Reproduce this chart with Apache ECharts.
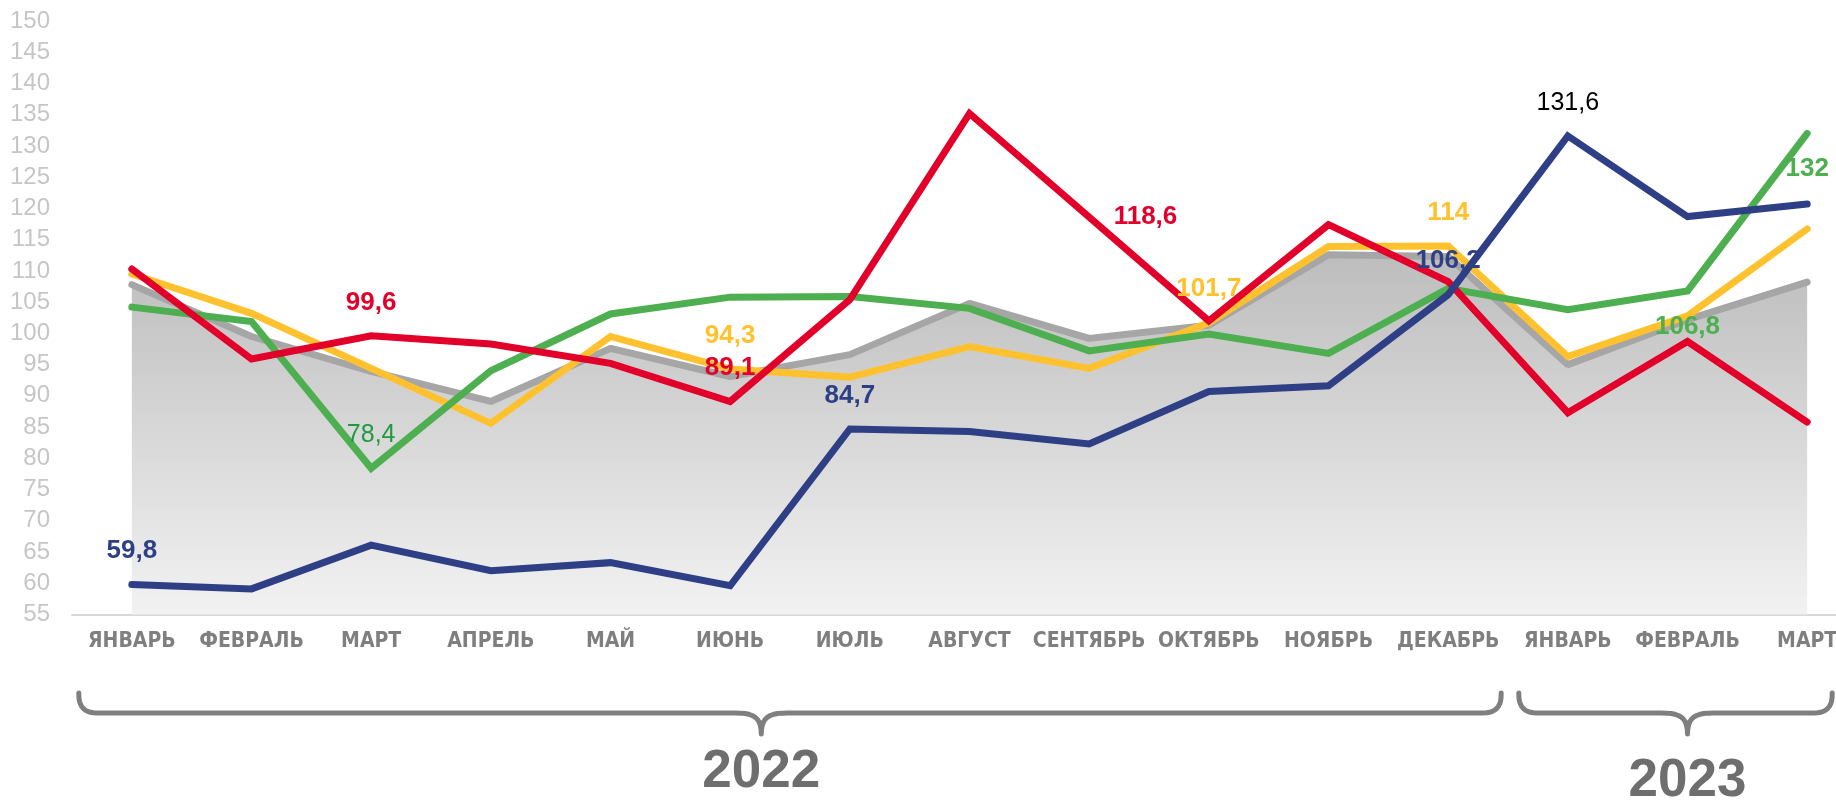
<!DOCTYPE html>
<html>
<head>
<meta charset="utf-8">
<script src="https://cdn.jsdelivr.net/npm/echarts@6/dist/echarts.min.js"></script>
<style>
  html, body { margin: 0; padding: 0; background: #fff; }
  #chart { width: 1836px; height: 800px; }
</style>
</head>
<body>
<div id="chart"></div>
<script>
// категории (месяцы)
const months = ['ЯНВАРЬ', 'ФЕВРАЛЬ', 'МАРТ', 'АПРЕЛЬ', 'МАЙ', 'ИЮНЬ', 'ИЮЛЬ', 'АВГУСТ',
  'СЕНТЯБРЬ', 'ОКТЯБРЬ', 'НОЯБРЬ', 'ДЕКАБРЬ', 'ЯНВАРЬ', 'ФЕВРАЛЬ', 'МАРТ'];

// группы по годам: первый и последний индекс месяца
const years = [
  { name: '2022', from: 0, to: 11 },
  { name: '2023', from: 12, to: 14 }
];

// значения рядов
const grayValues   = [107.8, 99.5, 93.9, 89.1, 97.6, 93.1, 96.6, 104.8, 99.2, 101.3, 112.6, 112.3, 95.0, 102.2, 108.2];
const yellowValues = [109.5, 103.2, 94.4, 85.6, 99.5, 94.3, 93.0, 97.9, 94.4, 101.7, 113.9, 114, 96.3, 102.8, 116.7];
const greenValues  = [104.2, 101.9, 78.4, 94.0, 103.1, 105.8, 105.9, 104.0, 97.2, 99.9, 96.8, 107.2, 103.8, 106.8, 132];
const redValues    = [110.3, 95.9, 99.6, 98.3, 95.2, 89.1, 105.4, 135.2, 118.6, 102.0, 117.4, 108.3, 87.3, 98.7, 85.8];
const blueValues   = [59.8, 59.1, 66.1, 62.0, 63.3, 59.6, 84.7, 84.3, 82.3, 90.7, 91.6, 106.2, 131.6, 118.7, 120.7];

// оси
const yMin = 55, yMax = 150, yStep = 5;

// какие точки подписаны (индекс месяца, положение, стиль)
const labelSpec = {
  yellow: [[5, 'top'], [9, 'top'], [11, 'top']],
  green:  [[2, 'top', 'thin'], [13, 'bottom'], [14, 'bottom']],
  red:    [[2, 'top'], [5, 'top'], [8, 'right']],
  blue:   [[0, 'top'], [6, 'top'], [11, 'top'], [12, 'top', 'black']]
};

const colors = {
  gray: '#a6a6a6',
  yellow: '#ffc22e',
  green: '#4daf4f',
  red: '#e2002a',
  blue: '#2f3f86'
};

const FONT = '"Liberation Sans", Arial, sans-serif';

const fmt = v => String(v).replace('.', ',');

function buildData(values, key) {
  const marks = {};
  (labelSpec[key] || []).forEach(s => { marks[s[0]] = s; });
  return values.map((v, i) => {
    const s = marks[i];
    if (!s) return v;
    let color = colors[key];
    let weight = 'bold';
    let size = 26;
    if (s[2] === 'thin') { color = '#1d9b3e'; weight = 'normal'; size = 25; }
    if (s[2] === 'black') { color = '#000'; weight = 'normal'; size = 25; }
    return {
      value: v,
      label: {
        show: true,
        position: s[1],
        distance: s[1] === 'right' ? 24 : (s[1] === 'bottom' ? 22 : 20),
        formatter: p => fmt(p.value),
        color: color,
        fontWeight: weight,
        fontSize: size,
        fontFamily: FONT
      }
    };
  });
}

function lineSeries(key, values) {
  return {
    name: key,
    type: 'line',
    symbol: 'circle',
    symbolSize: 1,
    showSymbol: true,
    data: buildData(values, key),
    lineStyle: { color: colors[key], width: 7, cap: 'round', join: 'miter' },
    itemStyle: { color: 'rgba(0,0,0,0)' },
    label: { show: false },
    z: 3
  };
}

const chart = echarts.init(document.getElementById('chart'));

// сетка шире окна: последняя полоса категорий уходит за правый край
chart.setOption({
  animation: false,
  grid: { left: 72, width: 1795, top: 21, bottom: 185.5, outerBoundsMode: 'none', containLabel: false },
  xAxis: {
    type: 'category',
    data: months,
    boundaryGap: true,
    axisLine: { show: true, lineStyle: { color: '#d9d9d9', width: 2 } },
    axisTick: { show: false },
    axisLabel: {
      interval: 0,
      margin: 17,
      color: '#7f7f7f',
      fontSize: 21,
      fontWeight: 'bold',
      fontFamily: '"Liberation Sans Narrow", "Arial Narrow", "DejaVu Sans Condensed", sans-serif'
    },
    splitLine: { show: false }
  },
  yAxis: {
    type: 'value',
    min: yMin,
    max: yMax,
    interval: yStep,
    axisLine: { show: false },
    axisTick: { show: false },
    splitLine: { show: false },
    axisLabel: { margin: 22, color: '#c6c6c6', fontSize: 24, fontFamily: FONT }
  },
  series: [
    {
      name: 'gray',
      type: 'line',
      symbol: 'none',
      data: grayValues,
      lineStyle: { color: colors.gray, width: 7, cap: 'round' },
      areaStyle: {
        origin: 'start',
        opacity: 1,
        color: new echarts.graphic.LinearGradient(0, 0, 0, 1, [
          { offset: 0, color: '#bdbdbd' },
          { offset: 1, color: '#f2f2f2' }
        ])
      },
      z: 2
    },
    lineSeries('yellow', yellowValues),
    lineSeries('green', greenValues),
    lineSeries('red', redValues),
    lineSeries('blue', blueValues)
  ]
});

// фигурные скобки и подписи годов под осью
const braceY = 713, braceTop = 693, braceTip = 734;
const braceCenters = [5.26, 13.0];
const braceEnds = [[-53, 53], [-49, 25]];
const yearTextY = [772, 781];

const px = i => chart.convertToPixel({ xAxisIndex: 0 }, i);
const step = px(1) - px(0);

function quad(p0, p1, p2, out) {
  for (let t = 0.1; t <= 1.0001; t += 0.1) {
    const u = 1 - t;
    out.push([u * u * p0[0] + 2 * u * t * p1[0] + t * t * p2[0],
              u * u * p0[1] + 2 * u * t * p1[1] + t * t * p2[1]]);
  }
}
function cubic(p0, p1, p2, p3, out) {
  for (let t = 0.1; t <= 1.0001; t += 0.1) {
    const u = 1 - t;
    out.push([u * u * u * p0[0] + 3 * u * u * t * p1[0] + 3 * u * t * t * p2[0] + t * t * t * p3[0],
              u * u * u * p0[1] + 3 * u * u * t * p1[1] + 3 * u * t * t * p2[1] + t * t * t * p3[1]]);
  }
}

const graphics = [];
years.forEach((y, k) => {
  const x0 = px(y.from) + braceEnds[k][0];
  const x1 = px(y.to) + braceEnds[k][1];
  const c = px(0) + braceCenters[k] * step;
  const r = 18;
  const pts = [[x0, braceTop], [x0, braceY - r]];
  quad([x0, braceY - r], [x0, braceY], [x0 + r, braceY], pts);
  pts.push([c - 26, braceY]);
  cubic([c - 26, braceY], [c - 8, braceY], [c, braceY + 4], [c, braceTip], pts);
  cubic([c, braceTip], [c, braceY + 4], [c + 8, braceY], [c + 26, braceY], pts);
  pts.push([x1 - r, braceY]);
  quad([x1 - r, braceY], [x1, braceY], [x1, braceY - r], pts);
  pts.push([x1, braceTop]);
  graphics.push({
    type: 'polyline',
    shape: { points: pts },
    style: { fill: null, stroke: '#7f7f7f', lineWidth: 5, lineCap: 'round', lineJoin: 'round' },
    silent: true
  });
  graphics.push({
    type: 'text',
    x: c,
    y: yearTextY[k],
    style: {
      text: y.name,
      fill: '#6e6e6e',
      font: 'bold 53px ' + FONT,
      textAlign: 'center',
      textVerticalAlign: 'middle'
    },
    silent: true
  });
});

chart.setOption({ graphic: graphics });
</script>
</body>
</html>
